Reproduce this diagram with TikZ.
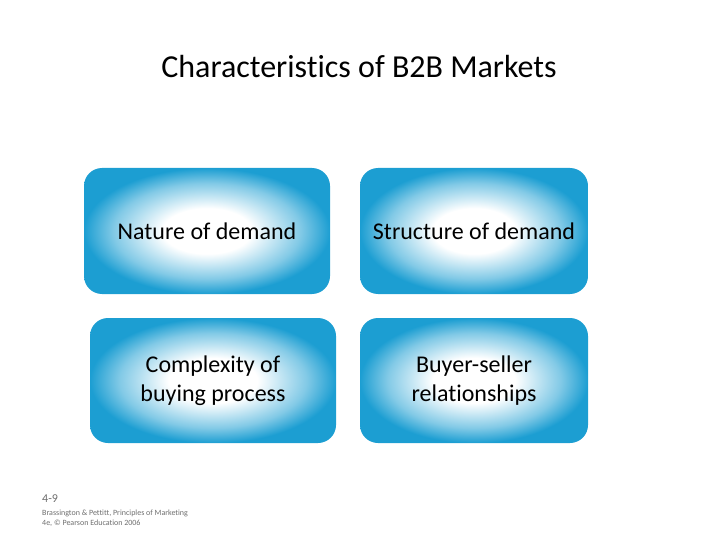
\documentclass[tikz,border=0pt]{standalone}
\usepackage{fontspec}
\setmainfont{Carlito}[Ligatures=NoCommon]
\usepackage{xcolor}
\definecolor{boxblue}{RGB}{28,158,210}
\definecolor{notegray}{RGB}{110,110,110}
\pgfdeclareradialshading{boxglow}{\pgfpoint{0bp}{0bp}}{color(0bp)=(white); color(9bp)=(white);
  color(19bp)=(boxblue!55); color(25bp)=(boxblue); color(50bp)=(boxblue)}

\begin{document}
\begin{tikzpicture}[x=1pt, y=-1pt,
  charbox/.style={shade, shading=boxglow, rounded corners=18pt,
    minimum height=126pt, align=center, font=\fontsize{24}{29}\selectfont, inner sep=0pt},
  footnote/.style={anchor=west, text=notegray, inner sep=0pt}]
\useasboundingbox (0,0) rectangle (720,540);
\node (title) at (359,67) {\fontsize{32}{38}\selectfont Characteristics of B2B Markets};

\node[charbox, minimum width=246pt] (nature) at (207,231) {Nature of demand};
\node[charbox, minimum width=228pt] (structure) at (474,231) {Structure of demand};
\node[charbox, minimum width=246pt, minimum height=125pt] (complexity) at (213,380.5) {Complexity of\\buying process};
\node[charbox, minimum width=228pt, minimum height=125pt] (buyer) at (474,380.5) {Buyer-seller\\relationships};

\node[footnote, font=\fontsize{12}{13}\selectfont] (page) at (42,499) {4-9};
\node[footnote, font=\fontsize{8}{10}\selectfont, align=left, anchor=north west] (source) at (42,509.5)
  {Brassington \& Pettitt, Principles of Marketing\\4e, \textcopyright{} Pearson Education 2006};
\end{tikzpicture}
\end{document}
